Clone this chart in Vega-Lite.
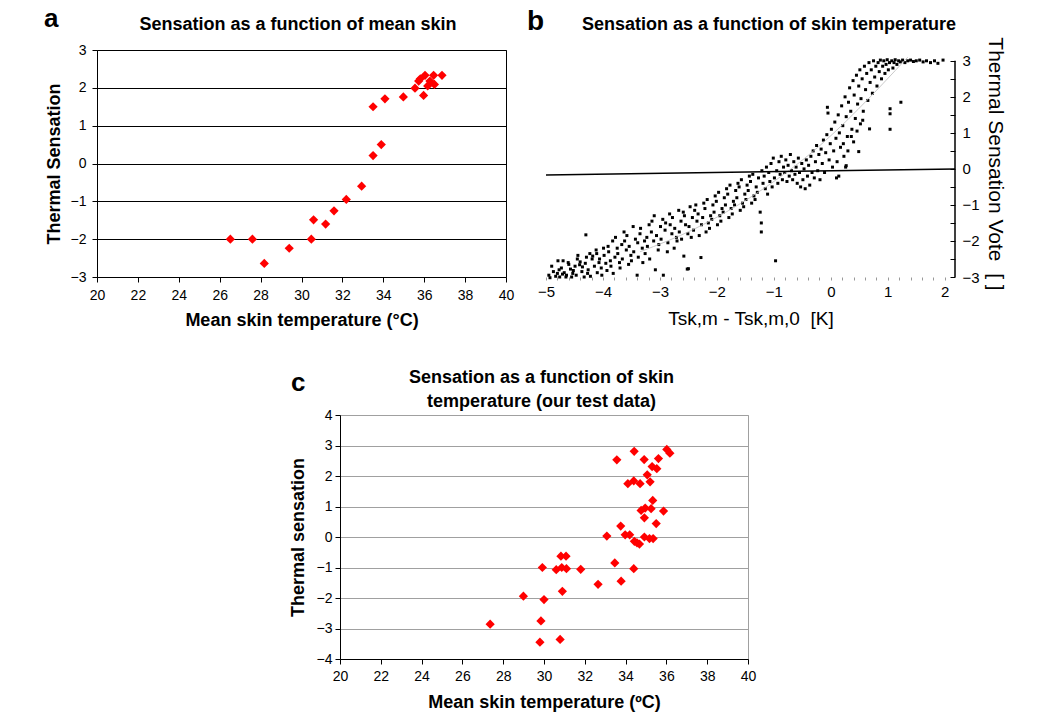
{
  "$schema": "https://vega.github.io/schema/vega-lite/v6.json",
  "background": "white",
  "padding": {"left": 43, "top": 5, "right": 5, "bottom": 5},
  "spacing": 37,
  "config": {
    "font": "Liberation Sans",
    "view": {"stroke": null},
    "axis": {"labelFont": "Liberation Sans", "titleFont": "Liberation Sans", "labelColor": "black", "titleColor": "black", "domainColor": "black", "tickColor": "black", "labelFlush": false, "labelOverlap": false},
    "title": {"font": "Liberation Sans", "color": "black", "fontWeight": "bold"}
  },
  "datasets": {
    "a": [
      {"t": 26.52, "s": -2.0}, {"t": 27.6, "s": -2.0}, {"t": 28.18, "s": -2.64}, {"t": 29.4, "s": -2.24},
      {"t": 30.48, "s": -2.0}, {"t": 30.59, "s": -1.49}, {"t": 31.18, "s": -1.6}, {"t": 31.59, "s": -1.25},
      {"t": 32.19, "s": -0.95}, {"t": 32.94, "s": -0.6}, {"t": 33.5, "s": 0.21}, {"t": 33.9, "s": 0.5},
      {"t": 33.5, "s": 1.5}, {"t": 34.08, "s": 1.71}, {"t": 34.98, "s": 1.76}, {"t": 35.55, "s": 1.99},
      {"t": 35.73, "s": 2.18}, {"t": 35.81, "s": 2.24}, {"t": 36.04, "s": 2.33}, {"t": 35.97, "s": 1.8},
      {"t": 36.17, "s": 2.05}, {"t": 36.28, "s": 2.18}, {"t": 36.46, "s": 2.33}, {"t": 36.5, "s": 2.09},
      {"t": 36.87, "s": 2.33}
    ],
    "c": [
      {"t": 27.36, "s": -2.86}, {"t": 28.99, "s": -1.94}, {"t": 29.92, "s": -1.0}, {"t": 30.0, "s": -2.05},
      {"t": 29.85, "s": -2.75}, {"t": 29.8, "s": -3.45}, {"t": 30.6, "s": -1.07}, {"t": 30.83, "s": -0.63},
      {"t": 31.08, "s": -0.63}, {"t": 30.87, "s": -1.0}, {"t": 31.1, "s": -1.04}, {"t": 30.9, "s": -1.78},
      {"t": 30.79, "s": -3.36}, {"t": 31.8, "s": -1.06}, {"t": 32.65, "s": -1.55}, {"t": 33.08, "s": 0.03},
      {"t": 33.47, "s": -0.85}, {"t": 33.57, "s": 2.53}, {"t": 33.76, "s": 0.36}, {"t": 33.78, "s": -1.45},
      {"t": 33.98, "s": 0.07}, {"t": 34.2, "s": 0.07}, {"t": 34.11, "s": 1.75}, {"t": 34.4, "s": 1.84},
      {"t": 34.42, "s": 2.81}, {"t": 34.4, "s": -1.04}, {"t": 34.43, "s": -0.14}, {"t": 34.56, "s": -0.19},
      {"t": 34.68, "s": -0.23}, {"t": 34.71, "s": 1.75}, {"t": 34.76, "s": 0.87}, {"t": 34.91, "s": 2.54},
      {"t": 34.92, "s": 0.63}, {"t": 34.92, "s": 0.0}, {"t": 34.96, "s": 0.95}, {"t": 35.06, "s": 2.04},
      {"t": 35.2, "s": 1.81}, {"t": 35.17, "s": -0.05}, {"t": 35.25, "s": 0.93}, {"t": 35.3, "s": 2.31},
      {"t": 35.33, "s": 1.2}, {"t": 35.35, "s": -0.05}, {"t": 35.5, "s": 0.44}, {"t": 35.53, "s": 2.24},
      {"t": 35.61, "s": 2.57}, {"t": 35.86, "s": 0.85}, {"t": 36.02, "s": 2.87}, {"t": 36.17, "s": 2.75}
    ],
    "b_line": [{"x": -5, "y": -0.17}, {"x": 2.18, "y": 0.0}],
    "b_fit": [{"x": -3.35, "y": -2.3}, {"x": -2.4, "y": -1.67}, {"x": -1.1, "y": -0.46}, {"x": -0.4, "y": 0.37}, {"x": 1.35, "y": 3.1}],
    "b": [
      {"x": -4.95, "y": -2.95}, {"x": -4.93, "y": -3.02}, {"x": -4.87, "y": -2.85}, {"x": -4.9, "y": -2.7},
      {"x": -4.83, "y": -2.98}, {"x": -4.8, "y": -2.9}, {"x": -4.79, "y": -2.55}, {"x": -4.76, "y": -3.0},
      {"x": -4.77, "y": -2.8}, {"x": -4.71, "y": -2.92}, {"x": -4.7, "y": -2.55}, {"x": -4.73, "y": -2.75},
      {"x": -4.65, "y": -3.0}, {"x": -4.68, "y": -2.88}, {"x": -4.6, "y": -2.65}, {"x": -4.64, "y": -2.95},
      {"x": -4.57, "y": -2.78}, {"x": -4.61, "y": -2.6}, {"x": -4.53, "y": -2.9}, {"x": -4.55, "y": -3.0},
      {"x": -4.49, "y": -2.7}, {"x": -4.52, "y": -2.82}, {"x": -4.45, "y": -2.5}, {"x": -4.47, "y": -2.95},
      {"x": -4.41, "y": -2.66}, {"x": -4.44, "y": -2.4}, {"x": -4.37, "y": -2.85}, {"x": -4.4, "y": -2.58},
      {"x": -4.33, "y": -3.0}, {"x": -4.36, "y": -2.72}, {"x": -4.29, "y": -2.45}, {"x": -4.3, "y": -1.83},
      {"x": -4.27, "y": -2.9}, {"x": -4.31, "y": -2.62}, {"x": -4.23, "y": -2.35}, {"x": -4.26, "y": -2.8},
      {"x": -4.19, "y": -2.5}, {"x": -4.22, "y": -2.98}, {"x": -4.15, "y": -2.7}, {"x": -4.18, "y": -2.42},
      {"x": -4.12, "y": -2.25}, {"x": -4.1, "y": -2.88}, {"x": -4.07, "y": -2.6}, {"x": -4.11, "y": -2.35},
      {"x": -4.03, "y": -2.75}, {"x": -4.06, "y": -2.5}, {"x": -3.99, "y": -2.2}, {"x": -4.02, "y": -2.95},
      {"x": -3.95, "y": -2.62}, {"x": -3.98, "y": -2.4}, {"x": -3.91, "y": -2.15}, {"x": -3.93, "y": -2.82},
      {"x": -3.87, "y": -2.55}, {"x": -3.9, "y": -2.3}, {"x": -3.83, "y": -2.0}, {"x": -3.86, "y": -2.7},
      {"x": -3.79, "y": -2.45}, {"x": -3.82, "y": -2.9}, {"x": -3.75, "y": -2.2}, {"x": -3.78, "y": -1.9},
      {"x": -3.71, "y": -2.6}, {"x": -3.74, "y": -2.35}, {"x": -3.67, "y": -2.1}, {"x": -3.7, "y": -2.75},
      {"x": -3.63, "y": -1.75}, {"x": -3.66, "y": -2.5}, {"x": -3.59, "y": -2.25}, {"x": -3.62, "y": -2.0},
      {"x": -3.55, "y": -2.65}, {"x": -3.58, "y": -1.85}, {"x": -3.51, "y": -2.4}, {"x": -3.54, "y": -2.15},
      {"x": -3.47, "y": -1.6}, {"x": -3.5, "y": -2.55}, {"x": -3.43, "y": -1.95}, {"x": -3.46, "y": -2.3},
      {"x": -3.39, "y": -2.05}, {"x": -3.4, "y": -2.95}, {"x": -3.35, "y": -1.8}, {"x": -3.38, "y": -2.45},
      {"x": -3.31, "y": -2.2}, {"x": -3.34, "y": -1.65}, {"x": -3.27, "y": -2.0}, {"x": -3.3, "y": -2.6},
      {"x": -3.23, "y": -1.9}, {"x": -3.26, "y": -2.35}, {"x": -3.19, "y": -1.55}, {"x": -3.22, "y": -2.15},
      {"x": -3.15, "y": -1.75}, {"x": -3.18, "y": -2.5}, {"x": -3.11, "y": -2.0}, {"x": -3.14, "y": -1.45},
      {"x": -3.1, "y": -1.3}, {"x": -3.08, "y": -2.8}, {"x": -3.03, "y": -2.25}, {"x": -3.06, "y": -1.85},
      {"x": -2.99, "y": -1.6}, {"x": -3.02, "y": -2.1}, {"x": -2.95, "y": -1.4}, {"x": -2.98, "y": -1.95},
      {"x": -2.94, "y": -2.95}, {"x": -2.91, "y": -1.7}, {"x": -2.87, "y": -2.3}, {"x": -2.9, "y": -1.5},
      {"x": -2.83, "y": -1.25}, {"x": -2.86, "y": -2.05}, {"x": -2.79, "y": -1.8}, {"x": -2.82, "y": -1.55},
      {"x": -2.75, "y": -2.2}, {"x": -2.78, "y": -1.35}, {"x": -2.71, "y": -1.9}, {"x": -2.74, "y": -1.65},
      {"x": -2.67, "y": -1.15}, {"x": -2.7, "y": -2.0}, {"x": -2.63, "y": -1.45}, {"x": -2.66, "y": -1.75},
      {"x": -2.59, "y": -1.2}, {"x": -2.62, "y": -1.95}, {"x": -2.58, "y": -2.42}, {"x": -2.55, "y": -1.55},
      {"x": -2.57, "y": -1.3}, {"x": -2.52, "y": -2.78}, {"x": -2.51, "y": -1.8}, {"x": -2.5, "y": -2.77},
      {"x": -2.47, "y": -1.05}, {"x": -2.49, "y": -1.6}, {"x": -2.43, "y": -1.35}, {"x": -2.45, "y": -1.9},
      {"x": -2.39, "y": -1.15}, {"x": -2.41, "y": -1.7}, {"x": -2.35, "y": -1.45}, {"x": -2.37, "y": -1.0},
      {"x": -2.31, "y": -1.85}, {"x": -2.33, "y": -1.25}, {"x": -2.28, "y": -2.46}, {"x": -2.27, "y": -1.55},
      {"x": -2.23, "y": -0.95}, {"x": -2.25, "y": -1.35}, {"x": -2.19, "y": -1.75}, {"x": -2.21, "y": -1.1},
      {"x": -2.15, "y": -1.5}, {"x": -2.17, "y": -0.85}, {"x": -2.11, "y": -1.3}, {"x": -2.13, "y": -1.65},
      {"x": -2.07, "y": -1.0}, {"x": -2.09, "y": -1.4}, {"x": -2.03, "y": -0.75}, {"x": -2.05, "y": -1.2},
      {"x": -1.99, "y": -1.55}, {"x": -2.01, "y": -0.9}, {"x": -1.95, "y": -1.3}, {"x": -1.97, "y": -0.65},
      {"x": -1.91, "y": -1.1}, {"x": -1.93, "y": -1.45}, {"x": -1.87, "y": -0.8}, {"x": -1.89, "y": -1.2},
      {"x": -1.83, "y": -0.55}, {"x": -1.85, "y": -1.0}, {"x": -1.79, "y": -1.35}, {"x": -1.81, "y": -0.7},
      {"x": -1.75, "y": -1.1}, {"x": -1.77, "y": -0.45}, {"x": -1.71, "y": -0.9}, {"x": -1.73, "y": -1.25},
      {"x": -1.67, "y": -0.6}, {"x": -1.69, "y": -1.0}, {"x": -1.63, "y": -0.4}, {"x": -1.65, "y": -0.8},
      {"x": -1.59, "y": -1.15}, {"x": -1.61, "y": -0.5}, {"x": -1.55, "y": -0.95}, {"x": -1.57, "y": -0.3},
      {"x": -1.51, "y": -0.7}, {"x": -1.53, "y": -1.05}, {"x": -1.47, "y": -0.45}, {"x": -1.49, "y": -0.85},
      {"x": -1.43, "y": -0.2}, {"x": -1.45, "y": -0.6}, {"x": -1.39, "y": -0.95}, {"x": -1.41, "y": -0.35},
      {"x": -1.35, "y": -0.75}, {"x": -1.37, "y": -0.15}, {"x": -1.31, "y": -0.5}, {"x": -1.33, "y": -0.85},
      {"x": -1.27, "y": -0.25}, {"x": -1.29, "y": -0.65}, {"x": -1.24, "y": -1.2}, {"x": -1.22, "y": -1.5},
      {"x": -1.22, "y": -1.75}, {"x": -1.19, "y": -0.4}, {"x": -1.21, "y": -0.05}, {"x": -1.15, "y": -0.55},
      {"x": -1.17, "y": -0.2}, {"x": -1.11, "y": -0.7}, {"x": -1.13, "y": 0.05}, {"x": -1.07, "y": -0.35},
      {"x": -1.09, "y": -0.1}, {"x": -1.03, "y": -0.5}, {"x": -1.05, "y": 0.15}, {"x": -0.99, "y": -0.25},
      {"x": -1.01, "y": 0.3}, {"x": -0.97, "y": -2.55}, {"x": -0.95, "y": -0.05}, {"x": -0.93, "y": -0.4},
      {"x": -0.91, "y": 0.2}, {"x": -0.89, "y": -0.15}, {"x": -0.87, "y": 0.35}, {"x": -0.85, "y": -0.3},
      {"x": -0.83, "y": 0.05}, {"x": -0.81, "y": -0.1}, {"x": -0.79, "y": 0.25}, {"x": -0.77, "y": -0.35},
      {"x": -0.75, "y": 0.1}, {"x": -0.73, "y": -0.2}, {"x": -0.71, "y": 0.4}, {"x": -0.69, "y": -0.05},
      {"x": -0.67, "y": -0.3}, {"x": -0.65, "y": 0.2}, {"x": -0.63, "y": -0.15}, {"x": -0.61, "y": 0.05},
      {"x": -0.59, "y": -0.4}, {"x": -0.57, "y": 0.3}, {"x": -0.55, "y": -0.1}, {"x": -0.53, "y": -0.5},
      {"x": -0.51, "y": 0.15}, {"x": -0.49, "y": -0.3}, {"x": -0.47, "y": 0.0}, {"x": -0.45, "y": -0.55},
      {"x": -0.43, "y": 0.25}, {"x": -0.41, "y": -0.2}, {"x": -0.39, "y": 0.1}, {"x": -0.37, "y": -0.45},
      {"x": -0.35, "y": 0.35}, {"x": -0.33, "y": -0.1}, {"x": -0.31, "y": 0.5}, {"x": -0.29, "y": -0.25},
      {"x": -0.27, "y": 0.2}, {"x": -0.25, "y": 0.65}, {"x": -0.23, "y": -0.05}, {"x": -0.21, "y": 0.4},
      {"x": -0.19, "y": -0.3}, {"x": -0.17, "y": 0.55}, {"x": -0.15, "y": 0.15}, {"x": -0.13, "y": 0.8},
      {"x": -0.11, "y": -0.1}, {"x": -0.09, "y": 0.45}, {"x": -0.07, "y": 0.95}, {"x": -0.06, "y": 1.71},
      {"x": -0.05, "y": 1.55}, {"x": -0.03, "y": 0.25}, {"x": -0.01, "y": 0.7}, {"x": 0.01, "y": 1.1},
      {"x": 0.03, "y": 0.05}, {"x": 0.05, "y": 0.5}, {"x": 0.07, "y": 1.3}, {"x": 0.09, "y": 0.85},
      {"x": 0.11, "y": 0.2}, {"x": 0.1, "y": -0.25}, {"x": 0.13, "y": 1.5}, {"x": 0.15, "y": 1.0},
      {"x": 0.14, "y": -0.2}, {"x": 0.17, "y": 0.6}, {"x": 0.19, "y": 1.75}, {"x": 0.21, "y": 1.2},
      {"x": 0.22, "y": 0.7}, {"x": 0.23, "y": 0.35}, {"x": 0.25, "y": 2.0}, {"x": 0.26, "y": 0.05},
      {"x": 0.27, "y": 1.45}, {"x": 0.27, "y": 0.09}, {"x": 0.29, "y": 0.9}, {"x": 0.31, "y": 1.85},
      {"x": 0.3, "y": 0.5}, {"x": 0.33, "y": 2.25}, {"x": 0.35, "y": 1.6}, {"x": 0.36, "y": 0.9},
      {"x": 0.37, "y": 1.1}, {"x": 0.39, "y": 2.45}, {"x": 0.41, "y": 2.05}, {"x": 0.4, "y": 0.75},
      {"x": 0.43, "y": 1.4}, {"x": 0.45, "y": 2.6}, {"x": 0.46, "y": 1.05}, {"x": 0.47, "y": 1.8},
      {"x": 0.49, "y": 2.3}, {"x": 0.49, "y": 0.48}, {"x": 0.51, "y": 2.75}, {"x": 0.52, "y": 1.25},
      {"x": 0.53, "y": 1.95}, {"x": 0.55, "y": 2.5}, {"x": 0.56, "y": 1.35}, {"x": 0.57, "y": 1.6},
      {"x": 0.59, "y": 2.85}, {"x": 0.61, "y": 2.2}, {"x": 0.63, "y": 2.65}, {"x": 0.65, "y": 1.9},
      {"x": 0.67, "y": 2.95}, {"x": 0.68, "y": 1.11}, {"x": 0.69, "y": 2.4}, {"x": 0.71, "y": 2.75},
      {"x": 0.73, "y": 2.1}, {"x": 0.75, "y": 3.0}, {"x": 0.77, "y": 2.55}, {"x": 0.79, "y": 2.85},
      {"x": 0.81, "y": 2.3}, {"x": 0.83, "y": 2.95}, {"x": 0.85, "y": 2.7}, {"x": 0.87, "y": 3.02},
      {"x": 0.89, "y": 2.5}, {"x": 0.91, "y": 2.85}, {"x": 0.93, "y": 3.0}, {"x": 0.95, "y": 2.65},
      {"x": 0.97, "y": 2.9}, {"x": 0.99, "y": 3.03}, {"x": 1.01, "y": 2.75}, {"x": 1.03, "y": 2.95},
      {"x": 1.04, "y": 1.67}, {"x": 1.04, "y": 1.53}, {"x": 1.04, "y": 1.1}, {"x": 1.07, "y": 3.0},
      {"x": 1.09, "y": 2.8}, {"x": 1.11, "y": 2.95}, {"x": 1.13, "y": 3.03}, {"x": 1.16, "y": 2.9},
      {"x": 1.19, "y": 3.0}, {"x": 1.22, "y": 2.97}, {"x": 1.23, "y": 1.85}, {"x": 1.26, "y": 3.02},
      {"x": 1.3, "y": 2.95}, {"x": 1.35, "y": 3.0}, {"x": 1.4, "y": 3.02}, {"x": 1.45, "y": 2.98},
      {"x": 1.5, "y": 3.0}, {"x": 1.56, "y": 3.02}, {"x": 1.62, "y": 2.97}, {"x": 1.68, "y": 3.0},
      {"x": 1.75, "y": 2.95}, {"x": 1.82, "y": 3.0}, {"x": 1.88, "y": 2.93}, {"x": 1.97, "y": 3.02}
    ]
  },
  "vconcat": [
    {
      "hconcat": [
        {
          "width": 409,
          "height": 227,
          "title": {"text": "a", "anchor": "start", "frame": "group", "dx": -53, "offset": -17, "fontSize": 26, "fontWeight": "bold"},
          "view": {"stroke": "black", "strokeWidth": 1},
          "data": {"name": "a"},
          "encoding": {
            "y": {"field": "s", "type": "quantitative", "scale": {"domain": [-3, 3], "nice": false, "zero": false},
              "axis": {"orient": "left", "values": [-3, -2, -1, 0, 1, 2, 3], "grid": true, "gridColor": "black", "gridOpacity": 1, "domain": false, "tickSize": 5, "labelFontSize": 14, "labelPadding": 6, "title": "Thermal Sensation", "titleFontSize": 18, "titleFontWeight": "bold", "titlePadding": 7}}
          },
          "layer": [
            {
              "mark": {"type": "point", "shape": "diamond", "filled": true, "color": "#ff0000", "opacity": 1, "size": 85},
              "encoding": {
                "x": {"field": "t", "type": "quantitative", "scale": {"domain": [20, 40], "nice": false, "zero": false},
                  "axis": {"orient": "bottom", "values": [20, 22, 24, 26, 28, 30, 32, 34, 36, 38, 40], "grid": false, "domain": false, "tickSize": 5, "labelFontSize": 14, "labelPadding": 6, "title": "Mean skin temperature (°C)", "titleFontSize": 18, "titleFontWeight": "bold", "titlePadding": 9}}
              }
            },
            {
              "mark": {"type": "point", "opacity": 0},
              "encoding": {
                "x": {"field": "t", "type": "quantitative", "scale": {"domain": [20, 40], "nice": false, "zero": false},
                  "axis": {"orient": "top", "labels": false, "ticks": false, "domain": false, "grid": false, "title": "Sensation as a function of mean skin", "titleFontSize": 18, "titleFontWeight": "bold", "titlePadding": 17, "titleX": 200.5}}
              }
            }
          ],
          "resolve": {"axis": {"x": "independent"}}
        },
        {
          "width": 409,
          "height": 227,
          "title": {"text": "b", "anchor": "start", "frame": "group", "dx": -19, "offset": -21, "fontSize": 28, "fontWeight": "bold"},
          "layer": [
            {
              "data": {"name": "b"},
              "mark": {"type": "square", "filled": true, "color": "black", "opacity": 1, "size": 9},
              "encoding": {
                "x": {"field": "x", "type": "quantitative", "scale": {"domain": [-5, 2.18], "nice": false, "zero": false},
                  "axis": {"orient": "bottom", "values": [-5, -4.8, -4.6, -4.4, -4.2, -4, -3.8, -3.6, -3.4, -3.2, -3, -2.8, -2.6, -2.4, -2.2, -2, -1.8, -1.6, -1.4, -1.2, -1, -0.8, -0.6, -0.4, -0.2, 0, 0.2, 0.4, 0.6, 0.8, 1, 1.2, 1.4, 1.6, 1.8, 2], "labelExpr": "datum.value % 1 === 0 ? format(datum.value, 'd') : ''", "grid": false, "domain": false, "tickColor": "#999999", "tickSize": 3, "labelFontSize": 15, "labelPadding": 4, "title": "Tsk,m - Tsk,m,0 \u00a0[K]", "titleFontSize": 19, "titleFontWeight": "normal", "titlePadding": 10}},
                "y": {"field": "y", "type": "quantitative", "scale": {"domain": [-3, 3.3], "nice": false, "zero": false},
                  "axis": {"orient": "right", "values": [-3, -2.5, -2, -1.5, -1, -0.5, 0, 0.5, 1, 1.5, 2, 2.5, 3], "labelExpr": "datum.value % 1 === 0 ? format(datum.value, 'd') : ''", "grid": false, "domain": false, "tickSize": -5, "labelPadding": 12, "labelFontSize": 15, "title": "Thermal Sensation Vote \u00a0[ ]", "titleFontSize": 21, "titleFontWeight": "normal", "titlePadding": 5}}
              }
            },
            {
              "data": {"name": "b_fit"},
              "mark": {"type": "line", "color": "#bbbbbb", "strokeWidth": 0.8, "interpolate": "monotone"},
              "encoding": {
                "x": {"field": "x", "type": "quantitative", "scale": {"domain": [-5, 2.18], "nice": false, "zero": false}, "axis": null},
                "y": {"field": "y", "type": "quantitative", "scale": {"domain": [-3, 3.3], "nice": false, "zero": false}, "axis": null}
              }
            },
            {
              "data": {"name": "b_line"},
              "mark": {"type": "line", "color": "black", "strokeWidth": 1.5},
              "encoding": {
                "x": {"field": "x", "type": "quantitative", "scale": {"domain": [-5, 2.18], "nice": false, "zero": false}, "axis": null},
                "y": {"field": "y", "type": "quantitative", "scale": {"domain": [-3, 3.3], "nice": false, "zero": false}, "axis": null}
              }
            },
            {
              "data": {"name": "b_line"},
              "mark": {"type": "rule", "color": "black", "strokeWidth": 1},
              "encoding": {
                "x": {"datum": 2.18, "type": "quantitative", "scale": {"domain": [-5, 2.18], "nice": false, "zero": false}, "axis": null},
                "y": {"datum": -3, "type": "quantitative", "scale": {"domain": [-3, 3.3], "nice": false, "zero": false}, "axis": null},
                "y2": {"datum": 3}
              }
            },
            {
              "data": {"name": "b"},
              "mark": {"type": "point", "opacity": 0},
              "encoding": {
                "x": {"field": "x", "type": "quantitative", "scale": {"domain": [-5, 2.18], "nice": false, "zero": false},
                  "axis": {"orient": "top", "labels": false, "ticks": false, "domain": false, "grid": false, "title": "Sensation as a function of skin temperature", "titleFontSize": 18, "titleFontWeight": "bold", "titlePadding": 17, "titleX": 222.5}},
                "y": {"field": "y", "type": "quantitative", "scale": {"domain": [-3, 3.3], "nice": false, "zero": false}, "axis": null}
              }
            }
          ],
          "resolve": {"axis": {"x": "independent", "y": "independent"}}
        }
      ],
      "spacing": 40,
      "bounds": "flush"
    },
    {
      "hconcat": [
        {
          "width": 243,
          "height": 10,
          "data": {"values": []},
          "mark": "point"
        },
        {
          "width": 408,
          "height": 244,
          "title": {"text": "c", "anchor": "start", "frame": "group", "dx": -49, "offset": -28, "fontSize": 26, "fontWeight": "bold"},
          "view": {"stroke": "#a0a0a0", "strokeWidth": 1},
          "data": {"name": "c"},
          "encoding": {
            "y": {"field": "s", "type": "quantitative", "scale": {"domain": [-4, 4], "nice": false, "zero": false},
              "axis": {"orient": "left", "values": [-4, -3, -2, -1, 0, 1, 2, 3, 4], "grid": true, "gridColor": "#a0a0a0", "gridOpacity": 1, "domain": true, "domainColor": "black", "tickSize": 5, "labelFontSize": 14, "labelPadding": 3, "title": "Thermal sensation", "titleFontSize": 18, "titleFontWeight": "bold", "titlePadding": 9}}
          },
          "layer": [
            {
              "mark": {"type": "point", "shape": "diamond", "filled": true, "color": "#ff0000", "opacity": 1, "size": 85},
              "encoding": {
                "x": {"field": "t", "type": "quantitative", "scale": {"domain": [20, 40], "nice": false, "zero": false},
                  "axis": {"orient": "bottom", "values": [20, 22, 24, 26, 28, 30, 32, 34, 36, 38, 40], "grid": false, "domain": true, "domainColor": "black", "tickSize": 5, "labelFontSize": 14, "labelPadding": 5, "title": "Mean skin temperature (ºC)", "titleFontSize": 18, "titleFontWeight": "bold", "titlePadding": 10}}
              }
            },
            {
              "mark": {"type": "point", "opacity": 0},
              "encoding": {
                "x": {"field": "t", "type": "quantitative", "scale": {"domain": [20, 40], "nice": false, "zero": false},
                  "axis": {"orient": "top", "labels": false, "ticks": false, "domain": false, "grid": false, "title": ["Sensation as a function of skin", "temperature (our test data)"], "titleFontSize": 18, "titleFontWeight": "bold", "titleLineHeight": 24, "titlePadding": 5, "titleX": 201}}
              }
            }
          ],
          "resolve": {"axis": {"x": "independent"}}
        }
      ],
      "spacing": 0,
      "bounds": "flush"
    }
  ]
}
